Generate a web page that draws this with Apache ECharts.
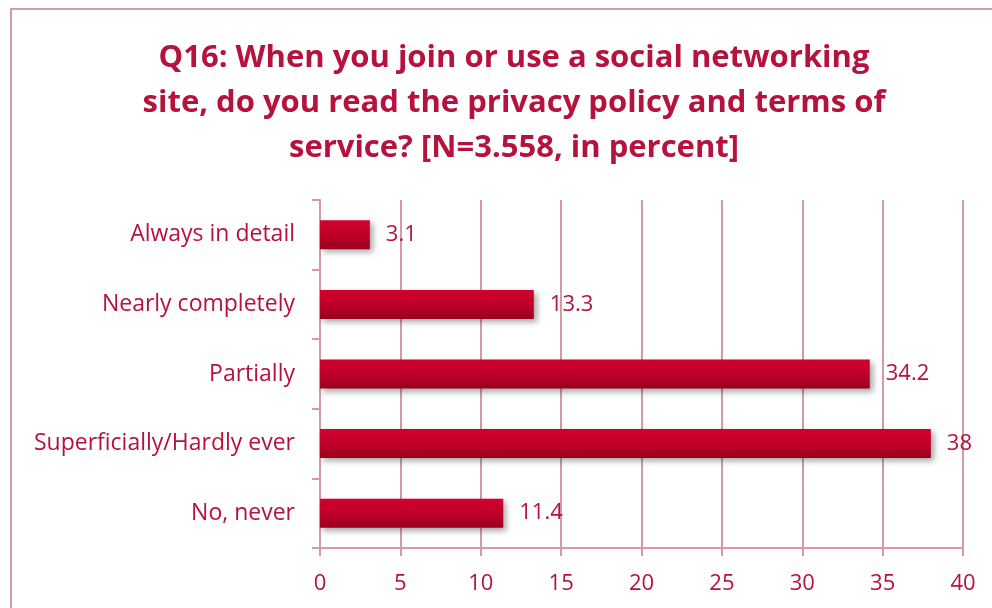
<!DOCTYPE html>
<html>
<head>
<meta charset="utf-8">
<script src="https://cdn.jsdelivr.net/npm/echarts@6/dist/echarts.min.js"></script>
<style>
  html, body { margin: 0; padding: 0; background: #ffffff; }
  #chart { width: 992px; height: 608px; }
</style>
</head>
<body>
<div id="chart"></div>
<script>
// Survey answers, listed top to bottom as shown
const categories = ['Always in detail', 'Nearly completely', 'Partially', 'Superficially/Hardly ever', 'No, never'];
const percentValues = [3.1, 13.3, 34.2, 38, 11.4];
const xTicks = [0, 5, 10, 15, 20, 25, 30, 35, 40];
const titleText = 'Q16: When you join or use a social networking\nsite, do you read the privacy policy and terms of\nservice? [N=3.558, in percent]';

const textColor = '#b5123d';
const lineColor = '#d49ba4';
const fontFamily = 'Open Sans';

const chart = echarts.init(document.getElementById('chart'), null, { renderer: 'canvas' });

chart.setOption({
  backgroundColor: '#ffffff',
  animation: false,
  graphic: [{
    type: 'rect',
    shape: { x: 11, y: 9, width: 1000, height: 700 },
    style: { fill: 'none', stroke: lineColor, lineWidth: 2 },
    silent: true
  }],
  title: {
    text: titleText,
    left: 509,
    top: 31,
    textAlign: 'center',
    textStyle: {
      fontFamily: fontFamily,
      fontWeight: 'bold',
      fontSize: 31,
      lineHeight: 45,
      color: textColor
    }
  },
  grid: { left: 320, right: 29, top: 200, bottom: 60, containLabel: false },
  xAxis: {
    type: 'value',
    min: xTicks[0],
    max: xTicks[xTicks.length - 1],
    interval: 5,
    axisLine: { show: true, lineStyle: { color: lineColor, width: 2 } },
    axisTick: { show: true, length: 8, lineStyle: { color: lineColor, width: 2 } },
    axisLabel: { margin: 25, fontFamily: fontFamily, fontSize: 22, color: textColor },
    splitLine: { show: true, lineStyle: { color: lineColor, width: 2 } }
  },
  yAxis: {
    type: 'category',
    inverse: true,
    data: categories,
    axisLine: { show: true, lineStyle: { color: lineColor, width: 2 } },
    axisTick: { show: true, length: 8, lineStyle: { color: lineColor, width: 2 } },
    axisLabel: { margin: 25, fontFamily: fontFamily, fontSize: 23, color: textColor }
  },
  series: [{
    type: 'bar',
    data: percentValues,
    barWidth: 29,
    itemStyle: {
      color: new echarts.graphic.LinearGradient(0, 0, 0, 1, [
        { offset: 0, color: '#d2002f' },
        { offset: 0.5, color: '#c00029' },
        { offset: 1, color: '#980020' }
      ]),
      shadowColor: 'rgba(0,0,0,0.35)',
      shadowBlur: 6,
      shadowOffsetX: 3,
      shadowOffsetY: 3
    },
    label: {
      show: true,
      position: 'right',
      distance: 16,
      fontFamily: fontFamily,
      fontSize: 22,
      color: textColor
    }
  }]
});
</script>
</body>
</html>
